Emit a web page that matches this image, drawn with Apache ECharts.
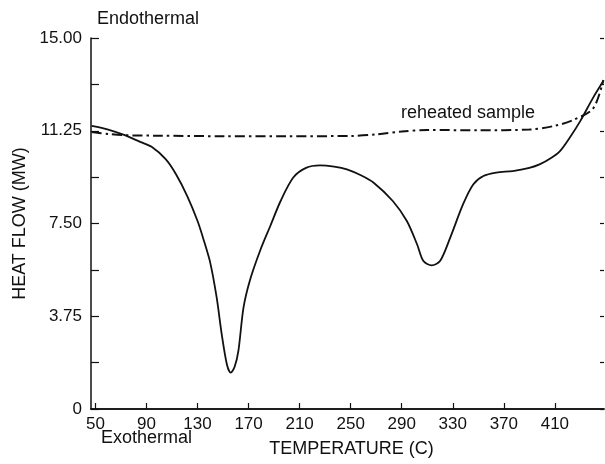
<!DOCTYPE html>
<html>
<head>
<meta charset="utf-8">
<script src="https://cdn.jsdelivr.net/npm/echarts@6/dist/echarts.min.js"></script>
<style>
  html, body { margin: 0; padding: 0; background: #fff; }
  #main { width: 605px; height: 464px; }
</style>
</head>
<body>
<div id="main"></div>
<script>
// first heating run (solid)
const sampleTemp = [47, 60, 73, 85, 94, 105, 113, 122, 130, 135, 140, 145, 149, 153, 156, 159, 162, 166, 171, 179, 187, 195, 205, 215, 226, 237, 247, 258, 268, 283, 294, 302, 307, 313.5, 320, 328, 338, 346, 354, 364, 377, 390, 398, 407, 414, 422, 430, 440, 448];
const sampleFlow = [11.45, 11.3, 11.07, 10.8, 10.6, 10.1, 9.5, 8.6, 7.6, 6.8, 5.9, 4.5, 3.0, 1.8, 1.47, 1.7, 2.35, 4.1, 5.2, 6.4, 7.4, 8.4, 9.36, 9.75, 9.85, 9.8, 9.69, 9.45, 9.15, 8.41, 7.6, 6.66, 5.98, 5.81, 5.98, 6.93, 8.27, 9.08, 9.42, 9.56, 9.62, 9.75, 9.89, 10.15, 10.43, 11.0, 11.65, 12.59, 13.26];

// reheated sample (dash-dot)
const reheatTemp = [47, 60, 73, 100, 150, 200, 250, 270, 290, 310, 350, 390, 410, 425, 440, 448];
const reheatFlow = [11.2, 11.12, 11.07, 11.05, 11.03, 11.03, 11.04, 11.1, 11.22, 11.28, 11.27, 11.3, 11.45, 11.7, 12.15, 13.3];

const xTicks = [50, 90, 130, 170, 210, 250, 290, 330, 370, 410];
const yTicks = [0, 3.75, 7.5, 11.25, 15];
const yTickLabels = ['0', '3.75', '7.50', '11.25', '15.00'];

const font = 'Liberation Sans, Arial, sans-serif';
const ink = '#111';

const chart = echarts.init(document.getElementById('main'));

const option = {
    animation: false,
    backgroundColor: '#fff',
    grid: { left: 91, right: 1, top: 38, bottom: 55 },
    xAxis: [
        {
            type: 'value',
            min: 46.5,
            max: 448.5,
            name: 'TEMPERATURE (C)',
            nameLocation: 'middle',
            nameGap: 31,
            nameTextStyle: { fontFamily: font, fontSize: 18, color: ink, padding: [0, 0, 0, 8] },
            axisLine: { lineStyle: { color: ink, width: 1.5 } },
            axisTick: { inside: true, length: 6, customValues: xTicks, lineStyle: { color: ink, width: 1.2 } },
            axisLabel: { customValues: xTicks, fontFamily: font, fontSize: 17, color: ink, margin: 7 },
            splitLine: { show: false }
        },
        {
            type: 'value',
            position: 'top',
            min: 46.5,
            max: 448.5,
            axisLine: { lineStyle: { color: ink, width: 1.5 } },
            axisTick: { show: false },
            axisLabel: { show: false },
            splitLine: { show: false }
        }
    ],
    yAxis: [
        {
            type: 'value',
            min: 0,
            max: 15,
            interval: 1.875,
            name: 'HEAT FLOW (MW)',
            nameLocation: 'middle',
            nameGap: 61,
            nameTextStyle: { fontFamily: font, fontSize: 18, color: ink },
            axisLine: { lineStyle: { color: ink, width: 1.5 } },
            axisTick: { inside: true, length: 8, lineStyle: { color: ink, width: 1.2 } },
            axisLabel: {
                fontFamily: font, fontSize: 17, color: ink, margin: 9,
                formatter: v => {
                    const i = yTicks.indexOf(v);
                    return i >= 0 ? yTickLabels[i] : '';
                }
            },
            splitLine: { show: false }
        },
        {
            type: 'value',
            position: 'right',
            min: 0,
            max: 15,
            interval: 1.875,
            axisLine: { show: false },
            axisTick: { inside: true, length: 4, lineStyle: { color: ink, width: 1.2 } },
            axisLabel: { show: false },
            splitLine: { show: false }
        }
    ],
    graphic: [
        { type: 'text', left: 97, top: 10, style: { text: 'Endothermal', font: '18px ' + font, fill: ink } },
        { type: 'text', left: 101, top: 429, style: { text: 'Exothermal', font: '18px ' + font, fill: ink } },
        { type: 'text', left: 401, top: 104, style: { text: 'reheated sample', font: '18px ' + font, fill: ink } }
    ],
    series: [
        {
            name: 'sample',
            type: 'line',
            data: sampleTemp.map((t, i) => [t, sampleFlow[i]]),
            smooth: 0.3,
            showSymbol: false,
            lineStyle: { color: ink, width: 1.8 }
        },
        {
            name: 'reheated sample',
            type: 'line',
            data: reheatTemp.map((t, i) => [t, reheatFlow[i]]),
            smooth: 0.3,
            showSymbol: false,
            lineStyle: { color: ink, width: 2, type: [10, 4, 2.5, 4] }
        }
    ]
};

chart.setOption(option);
</script>
</body>
</html>
